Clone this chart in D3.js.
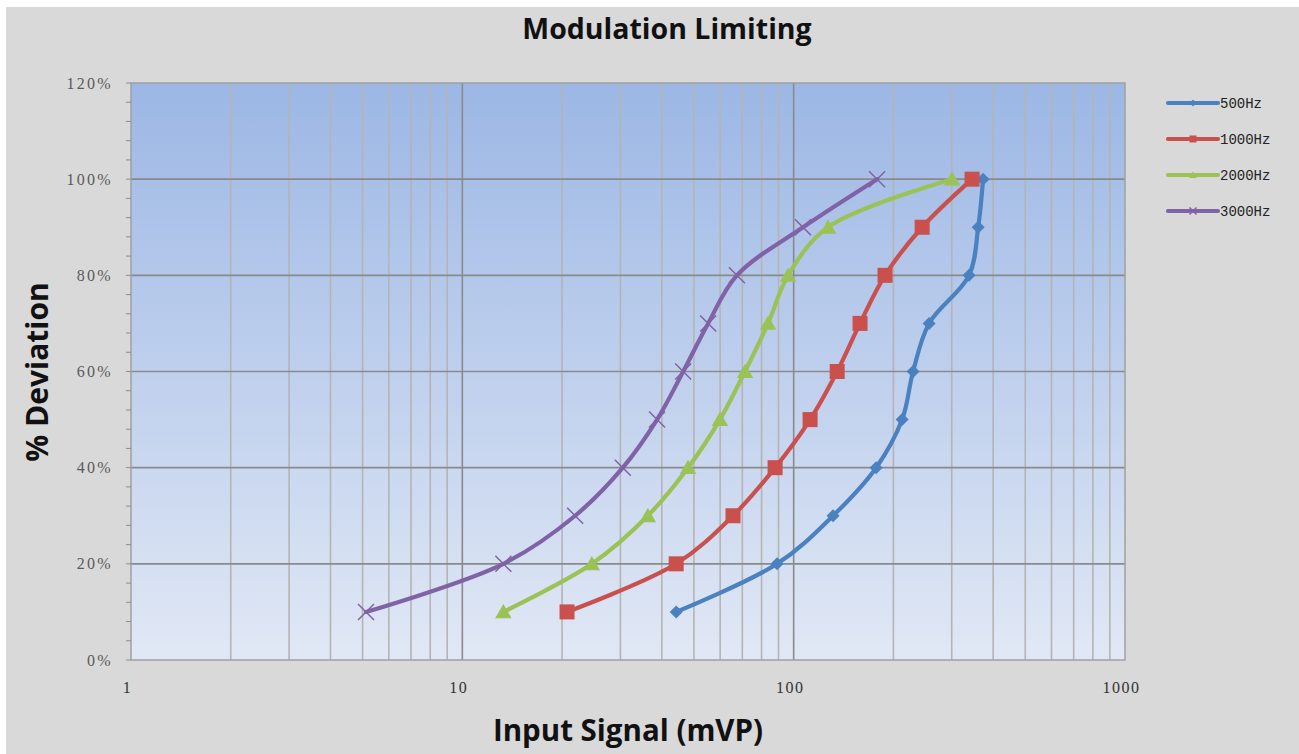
<!DOCTYPE html>
<html>
<head>
<meta charset="utf-8">
<script src="https://cdn.jsdelivr.net/npm/d3@7"></script>
<style>
  html, body { margin: 0; padding: 0; background: #ffffff; }
  svg { display: block; }
</style>
</head>
<body>
<svg id="chart" width="1299" height="754"></svg>
<script>
// Deviation levels (fraction of full deviation) shared by every series
const deviation = [0.1, 0.2, 0.3, 0.4, 0.5, 0.6, 0.7, 0.8, 0.9, 1.0];

// Input signal (mVP) needed to reach each deviation level
const signal500  = [44.2, 89.1, 131.5, 177.4, 212.5, 229.3, 256.2, 338.3, 360.5, 373.0];
const signal1000 = [20.7, 44.2, 65.6, 87.9, 112.1, 135.3, 158.6, 188.7, 244.2, 345.5];
const signal2000 = [13.3, 24.6, 36.3, 48.0, 59.9, 71.3, 83.7, 96.2, 127.0, 300.7];
const signal3000 = [5.12, 13.3, 21.9, 30.5, 38.7, 46.4, 55.2, 67.4, 106.7, 178.6];

const seriesNames = ["500Hz", "1000Hz", "2000Hz", "3000Hz"];
const seriesValues = [signal500, signal1000, signal2000, signal3000];
const seriesColors = ["#4a81c0", "#c9504c", "#9bc255", "#8062a6"];
const seriesMarkers = ["diamond", "square", "triangle", "cross"];

const xTickValues = [1, 10, 100, 1000];
const yTickValues = [0, 0.2, 0.4, 0.6, 0.8, 1.0, 1.2];

const svg = d3.select("#chart");
const W = 1299, H = 754;
const plot = { left: 131, top: 83, right: 1125, bottom: 660 };

// chart background
svg.append("rect").attr("x", 6).attr("y", 7).attr("width", W - 6).attr("height", H - 7)
  .attr("fill", "#d9d9d9");

const defs = svg.append("defs");
const grad = defs.append("linearGradient").attr("id", "plotFill")
  .attr("x1", 0).attr("y1", 0).attr("x2", 0).attr("y2", 1);
grad.append("stop").attr("offset", "0%").attr("stop-color", "#9cb7e5");
grad.append("stop").attr("offset", "100%").attr("stop-color", "#e1e8f5");

const x = d3.scaleLog().domain([1, 1000]).range([plot.left, plot.right]);
const y = d3.scaleLinear().domain([0, 1.2]).range([plot.bottom, plot.top]);

svg.append("rect")
  .attr("x", plot.left).attr("y", plot.top)
  .attr("width", plot.right - plot.left).attr("height", plot.bottom - plot.top)
  .attr("fill", "url(#plotFill)");

// vertical gridlines: minor at 2..9 per decade, major at decades
const minorX = [];
for (let d = 1; d < 1000; d *= 10) for (let k = 2; k <= 9; k++) minorX.push(d * k);
svg.append("g").selectAll("line").data(minorX).join("line")
  .attr("x1", d => x(d)).attr("x2", d => x(d))
  .attr("y1", plot.top).attr("y2", plot.bottom)
  .attr("stroke", "#b4b4b4").attr("stroke-width", 1.6);
svg.append("g").selectAll("line").data([10, 100]).join("line")
  .attr("x1", d => x(d)).attr("x2", d => x(d))
  .attr("y1", plot.top).attr("y2", plot.bottom)
  .attr("stroke", "#8a8a8a").attr("stroke-width", 1.6);

// horizontal gridlines
svg.append("g").selectAll("line").data(yTickValues.slice(1, -1)).join("line")
  .attr("x1", plot.left).attr("x2", plot.right)
  .attr("y1", d => y(d)).attr("y2", d => y(d))
  .attr("stroke", "#8a8a8a").attr("stroke-width", 1.6);

// plot border
svg.append("rect")
  .attr("x", plot.left).attr("y", plot.top)
  .attr("width", plot.right - plot.left).attr("height", plot.bottom - plot.top)
  .attr("fill", "none").attr("stroke", "#a0a0a0").attr("stroke-width", 1.5);

// y axis with minor ticks every 4%
const yMinor = d3.range(0, 1.2001, 0.04);
svg.append("g").selectAll("line").data(yMinor).join("line")
  .attr("x1", plot.left - 5).attr("x2", plot.left)
  .attr("y1", d => y(d)).attr("y2", d => y(d))
  .attr("stroke", "#8c8c8c").attr("stroke-width", 1);

const yAxis = d3.axisLeft(y).tickValues(yTickValues)
  .tickFormat(d3.format(".0%")).tickSize(0).tickPadding(18);
const yg = svg.append("g").attr("transform", `translate(${plot.left},0)`).call(yAxis);
yg.select(".domain").remove();
yg.selectAll("text")
  .attr("font-family", "'Liberation Serif', serif")
  .attr("font-size", 16).attr("fill", "#595959")
  .attr("letter-spacing", 2.3);

const xAxis = d3.axisBottom(x).tickValues(xTickValues)
  .tickFormat(d3.format("d")).tickSize(0).tickPadding(22);
const xg = svg.append("g").attr("transform", `translate(0,${plot.bottom})`).call(xAxis);
xg.select(".domain").remove();
xg.selectAll("text")
  .attr("font-family", "'Liberation Serif', serif")
  .attr("font-size", 16).attr("fill", "#333333")
  .attr("letter-spacing", 1.5)
  .attr("dx", -4);

// titles
svg.append("text").attr("x", 667).attr("y", 39)
  .attr("text-anchor", "middle")
  .attr("font-family", "'Open Sans', sans-serif").attr("font-weight", "bold")
  .attr("font-size", 28.5).attr("fill", "#111")
  .text("Modulation Limiting");

svg.append("text").attr("x", 628).attr("y", 741)
  .attr("text-anchor", "middle")
  .attr("font-family", "'Open Sans', sans-serif").attr("font-weight", "bold")
  .attr("font-size", 29.5).attr("fill", "#111")
  .text("Input Signal (mVP)");

svg.append("text")
  .attr("transform", "translate(48,372) rotate(-90)")
  .attr("text-anchor", "middle")
  .attr("font-family", "'Open Sans', sans-serif").attr("font-weight", "bold")
  .attr("font-size", 30).attr("fill", "#111")
  .text("% Deviation");

// marker drawing
function drawMarker(g, type, color, size) {
  const s = size;
  if (type === "diamond") {
    g.append("path").attr("d", `M0,${-s}L${s},0L0,${s}L${-s},0Z`).attr("fill", color);
  } else if (type === "square") {
    g.append("rect").attr("x", -s).attr("y", -s).attr("width", 2 * s).attr("height", 2 * s)
      .attr("fill", color);
  } else if (type === "triangle") {
    g.append("path").attr("d", `M0,${-s * 1.05}L${s * 1.1},${s * 0.85}L${-s * 1.1},${s * 0.85}Z`)
      .attr("fill", color);
  } else if (type === "cross") {
    g.append("path").attr("d", `M${-s},${-s}L${s},${s}M${-s},${s}L${s},${-s}`)
      .attr("stroke", color).attr("stroke-width", 1.5).attr("fill", "none");
  }
}

const markerSize = { diamond: 6.5, square: 7.5, triangle: 7.5, cross: 8 };

const line = d3.line()
  .x(d => x(d[0])).y(d => y(d[1]))
  .curve(d3.curveCatmullRom.alpha(0.5));

seriesValues.forEach((vals, i) => {
  const pts = vals.map((v, j) => [v, deviation[j]]);
  svg.append("path").datum(pts)
    .attr("d", line)
    .attr("fill", "none")
    .attr("stroke", seriesColors[i])
    .attr("stroke-width", 4.2)
    .attr("stroke-linejoin", "round")
    .attr("stroke-linecap", "round");
  const mg = svg.append("g");
  pts.forEach(p => {
    const g = mg.append("g").attr("transform", `translate(${x(p[0])},${y(p[1])})`);
    drawMarker(g, seriesMarkers[i], seriesColors[i], markerSize[seriesMarkers[i]]);
  });
});

// legend
const legendRows = [103, 139, 175, 211];
seriesNames.forEach((name, i) => {
  const g = svg.append("g").attr("transform", `translate(0,${legendRows[i]})`);
  g.append("line").attr("x1", 1168).attr("x2", 1218).attr("y1", 0).attr("y2", 0)
    .attr("stroke", seriesColors[i]).attr("stroke-width", 4.2).attr("stroke-linecap", "round");
  const m = g.append("g").attr("transform", "translate(1193,0)");
  drawMarker(m, seriesMarkers[i], seriesColors[i], 3.5);
  g.append("text").attr("x", 1220).attr("y", 5)
    .attr("font-family", "'Liberation Mono', monospace")
    .attr("font-size", 14).attr("fill", "#222")
    .text(name);
});
</script>
</body>
</html>
